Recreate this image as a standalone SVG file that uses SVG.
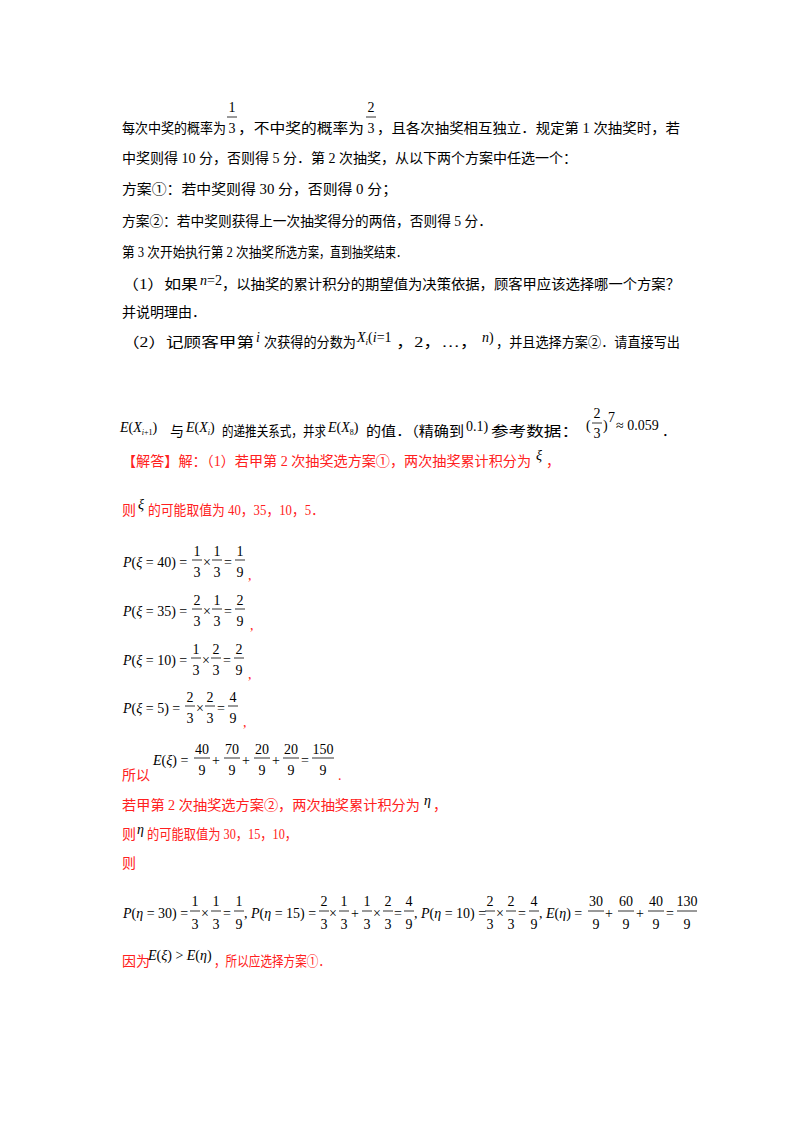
<svg xmlns="http://www.w3.org/2000/svg" width="800" height="1132" viewBox="0 0 800 1132">
<style>
text{font-family:"Liberation Serif","Noto Sans CJK SC",serif;font-size:14px;fill:#000}
.r{fill:#ff2020}
.m{font-family:"Liberation Serif",serif;font-size:14px}
.i{font-style:italic}
.f{font-family:"Liberation Serif",serif;font-size:14px;text-anchor:middle}
.b{stroke:#000;stroke-width:0.8}
</style>
<rect width="800" height="1132" fill="#fff"/>
<g id="question">
<text x="122" y="133" textLength="104" lengthAdjust="spacingAndGlyphs">每次中奖的概率为</text>
<text class="f" x="232" y="112">1</text><line class="b" x1="227" y1="117" x2="237" y2="117"/><text class="f" x="232" y="133">3</text>
<text x="238" y="133" textLength="126" lengthAdjust="spacingAndGlyphs">，不中奖的概率为</text>
<text class="f" x="371" y="112">2</text><line class="b" x1="366" y1="117" x2="376" y2="117"/><text class="f" x="371" y="133">3</text>
<text x="377" y="133" textLength="303" lengthAdjust="spacingAndGlyphs">，且各次抽奖相互独立．规定第 1 次抽奖时，若</text>
<text x="122" y="163">中奖则得 10 分，否则得 5 分．第 2 次抽奖，从以下两个方案中任选一个：</text>
<text x="122" y="194" textLength="275" lengthAdjust="spacingAndGlyphs">方案①：若中奖则得 30 分，否则得 0 分；</text>
<text x="122" y="226" textLength="370" lengthAdjust="spacingAndGlyphs">方案②：若中奖则获得上一次抽奖得分的两倍，否则得 5 分．</text>
<text x="122" y="257" textLength="152" lengthAdjust="spacingAndGlyphs">第 3 次开始执行第 2 次抽奖</text>
<text x="275" y="257" textLength="132" lengthAdjust="spacingAndGlyphs">所选方案，直到抽奖结束．</text>
<text x="122" y="289" textLength="76" lengthAdjust="spacingAndGlyphs">（1）如果</text>
<text class="m" x="200" y="285"><tspan class="i">n</tspan>=2</text>
<text x="222" y="289" textLength="458" lengthAdjust="spacingAndGlyphs">，以抽奖的累计积分的期望值为决策依据，顾客甲应该选择哪一个方案？</text>
<text x="122" y="317">并说明理由．</text>
<text x="122" y="347" textLength="132" lengthAdjust="spacingAndGlyphs">（2）记顾客甲第</text>
<text class="m i" x="256" y="342">i</text>
<text x="264" y="347" textLength="92" lengthAdjust="spacingAndGlyphs">次获得的分数为</text>
<text class="m" x="357" y="342"><tspan class="i">X</tspan><tspan font-size="9" class="i" dy="3">i</tspan><tspan dy="-3">(</tspan><tspan class="i">i</tspan>=1</text>
<text x="396" y="347" textLength="82" lengthAdjust="spacingAndGlyphs">，2，…，</text>
<text class="m" x="482" y="342"><tspan class="i">n</tspan>)</text>
<text x="496" y="347" textLength="184" lengthAdjust="spacingAndGlyphs">，并且选择方案②．请直接写出</text>
<text class="m" x="120" y="432"><tspan class="i">E</tspan>(<tspan class="i">X</tspan><tspan font-size="8" dy="3" class="i">i</tspan><tspan font-size="8">+1</tspan><tspan dy="-3">)</tspan></text>
<text x="170" y="436">与</text>
<text class="m" x="186" y="432"><tspan class="i">E</tspan>(<tspan class="i">X</tspan><tspan font-size="8" dy="3" class="i">i</tspan><tspan dy="-3">)</tspan></text>
<text x="222" y="436" textLength="104" lengthAdjust="spacingAndGlyphs">的递推关系式，并求</text>
<text class="m" x="328" y="432"><tspan class="i">E</tspan>(<tspan class="i">X</tspan><tspan font-size="8" dy="3">8</tspan><tspan dy="-3">)</tspan></text>
<text x="366" y="436" textLength="98" lengthAdjust="spacingAndGlyphs">的值．（精确到</text>
<text class="m" x="466" y="431">0.1)</text>
<text x="491" y="436" textLength="88" lengthAdjust="spacingAndGlyphs">参考数据：</text>
<text class="m" x="586" y="430">(</text><text class="f" x="597" y="418">2</text><line class="b" x1="592" y1="423" x2="602" y2="423"/><text class="f" x="597" y="438">3</text><text class="m" x="603" y="430">)</text><text class="m" x="608" y="422" font-size="9">7</text>
<text class="m" x="616" y="430">≈ 0.059</text>
<text x="662" y="436">．</text>
</g>
<g id="answer">
<text class="r" x="122" y="466" textLength="409" lengthAdjust="spacingAndGlyphs">【解答】解：（1）若甲第 2 次抽奖选方案①，两次抽奖累计积分为</text>
<text class="m i" x="536" y="460">ξ</text>
<text class="r" x="546" y="466">，</text>
<text class="r" x="122" y="515">则</text>
<text class="m i" x="138" y="509">ξ</text>
<text class="r" x="148" y="515" textLength="176" lengthAdjust="spacingAndGlyphs">的可能取值为 40，35，10，5．</text>

<text class="m" x="123" y="567"><tspan class="i">P</tspan>(<tspan class="i">ξ</tspan> = 40) =</text>
<text class="f" x="197" y="556">1</text><line class="b" x1="192" y1="560" x2="202" y2="560"/><text class="f" x="197" y="577">3</text>
<text class="m" x="203" y="567">×</text>
<text class="f" x="217" y="556">1</text><line class="b" x1="212" y1="560" x2="222" y2="560"/><text class="f" x="217" y="577">3</text>
<text class="m" x="224" y="567">=</text>
<text class="f" x="240" y="556">1</text><line class="b" x1="235" y1="560" x2="245" y2="560"/><text class="f" x="240" y="577">9</text>
<text class="r" x="248" y="580">,</text>

<text class="m" x="123" y="616"><tspan class="i">P</tspan>(<tspan class="i">ξ</tspan> = 35) =</text>
<text class="f" x="197" y="605">2</text><line class="b" x1="192" y1="609" x2="202" y2="609"/><text class="f" x="197" y="626">3</text>
<text class="m" x="203" y="616">×</text>
<text class="f" x="217" y="605">1</text><line class="b" x1="212" y1="609" x2="222" y2="609"/><text class="f" x="217" y="626">3</text>
<text class="m" x="224" y="616">=</text>
<text class="f" x="240" y="605">2</text><line class="b" x1="235" y1="609" x2="245" y2="609"/><text class="f" x="240" y="626">9</text>
<text class="r" x="250" y="630">,</text>

<text class="m" x="123" y="665"><tspan class="i">P</tspan>(<tspan class="i">ξ</tspan> = 10) =</text>
<text class="f" x="196" y="654">1</text><line class="b" x1="191" y1="658" x2="201" y2="658"/><text class="f" x="196" y="675">3</text>
<text class="m" x="202" y="665">×</text>
<text class="f" x="216" y="654">2</text><line class="b" x1="211" y1="658" x2="221" y2="658"/><text class="f" x="216" y="675">3</text>
<text class="m" x="223" y="665">=</text>
<text class="f" x="239" y="654">2</text><line class="b" x1="234" y1="658" x2="244" y2="658"/><text class="f" x="239" y="675">9</text>
<text class="r" x="248" y="679">,</text>

<text class="m" x="123" y="713"><tspan class="i">P</tspan>(<tspan class="i">ξ</tspan> = 5) =</text>
<text class="f" x="190" y="702">2</text><line class="b" x1="185" y1="706" x2="195" y2="706"/><text class="f" x="190" y="723">3</text>
<text class="m" x="196" y="713">×</text>
<text class="f" x="210" y="702">2</text><line class="b" x1="205" y1="706" x2="215" y2="706"/><text class="f" x="210" y="723">3</text>
<text class="m" x="217" y="713">=</text>
<text class="f" x="233" y="702">4</text><line class="b" x1="228" y1="706" x2="238" y2="706"/><text class="f" x="233" y="723">9</text>
<text class="r" x="243" y="727">,</text>

<text class="r" x="122" y="780">所以</text>
<text class="m" x="153" y="765"><tspan class="i">E</tspan>(<tspan class="i">ξ</tspan>) =</text>
<text class="f" x="202" y="754">40</text><line class="b" x1="194" y1="758" x2="210" y2="758"/><text class="f" x="202" y="775">9</text>
<text class="m" x="212" y="765">+</text>
<text class="f" x="232" y="754">70</text><line class="b" x1="224" y1="758" x2="240" y2="758"/><text class="f" x="232" y="775">9</text>
<text class="m" x="242" y="765">+</text>
<text class="f" x="262" y="754">20</text><line class="b" x1="254" y1="758" x2="270" y2="758"/><text class="f" x="262" y="775">9</text>
<text class="m" x="272" y="765">+</text>
<text class="f" x="291" y="754">20</text><line class="b" x1="283" y1="758" x2="299" y2="758"/><text class="f" x="291" y="775">9</text>
<text class="m" x="301" y="765">=</text>
<text class="f" x="323" y="754">150</text><line class="b" x1="312" y1="758" x2="334" y2="758"/><text class="f" x="323" y="775">9</text>
<text class="r" x="338" y="780">.</text>

<text class="r" x="122" y="810" textLength="298" lengthAdjust="spacingAndGlyphs">若甲第 2 次抽奖选方案②，两次抽奖累计积分为</text>
<text class="m i" x="424" y="805">η</text>
<text class="r" x="433" y="810">，</text>
<text class="r" x="122" y="839">则</text>
<text class="m i" x="137" y="834">η</text>
<text class="r" x="147" y="839" textLength="150" lengthAdjust="spacingAndGlyphs">的可能取值为 30，15，10，</text>
<text class="r" x="122" y="868">则</text>

<text class="m" x="123" y="918"><tspan class="i">P</tspan>(<tspan class="i">η</tspan> = 30) =</text>
<text class="f" x="195" y="906">1</text><line class="b" x1="190" y1="911" x2="200" y2="911"/><text class="f" x="195" y="929">3</text>
<text class="m" x="201" y="918">×</text>
<text class="f" x="216" y="906">1</text><line class="b" x1="211" y1="911" x2="221" y2="911"/><text class="f" x="216" y="929">3</text>
<text class="m" x="223" y="918">=</text>
<text class="f" x="239" y="906">1</text><line class="b" x1="234" y1="911" x2="244" y2="911"/><text class="f" x="239" y="929">9</text>
<text class="m" x="244" y="918">, <tspan class="i">P</tspan>(<tspan class="i">η</tspan> = 15) =</text>
<text class="f" x="324" y="906">2</text><line class="b" x1="319" y1="911" x2="329" y2="911"/><text class="f" x="324" y="929">3</text>
<text class="m" x="329" y="918">×</text>
<text class="f" x="344" y="906">1</text><line class="b" x1="339" y1="911" x2="349" y2="911"/><text class="f" x="344" y="929">3</text>
<text class="m" x="351" y="918">+</text>
<text class="f" x="367" y="906">1</text><line class="b" x1="362" y1="911" x2="372" y2="911"/><text class="f" x="367" y="929">3</text>
<text class="m" x="373" y="918">×</text>
<text class="f" x="388" y="906">2</text><line class="b" x1="383" y1="911" x2="393" y2="911"/><text class="f" x="388" y="929">3</text>
<text class="m" x="394" y="918">=</text>
<text class="f" x="409" y="906">4</text><line class="b" x1="404" y1="911" x2="414" y2="911"/><text class="f" x="409" y="929">9</text>
<text class="m" x="414" y="918">, <tspan class="i">P</tspan>(<tspan class="i">η</tspan> = 10) =</text>
<text class="f" x="490" y="906">2</text><line class="b" x1="485" y1="911" x2="495" y2="911"/><text class="f" x="490" y="929">3</text>
<text class="m" x="496" y="918">×</text>
<text class="f" x="511" y="906">2</text><line class="b" x1="506" y1="911" x2="516" y2="911"/><text class="f" x="511" y="929">3</text>
<text class="m" x="518" y="918">=</text>
<text class="f" x="534" y="906">4</text><line class="b" x1="529" y1="911" x2="539" y2="911"/><text class="f" x="534" y="929">9</text>
<text class="m" x="539" y="918">, <tspan class="i">E</tspan>(<tspan class="i">η</tspan>) =</text>
<text class="f" x="596" y="906">30</text><line class="b" x1="588" y1="911" x2="604" y2="911"/><text class="f" x="596" y="929">9</text>
<text class="m" x="605" y="918">+</text>
<text class="f" x="626" y="906">60</text><line class="b" x1="618" y1="911" x2="634" y2="911"/><text class="f" x="626" y="929">9</text>
<text class="m" x="636" y="918">+</text>
<text class="f" x="656" y="906">40</text><line class="b" x1="648" y1="911" x2="664" y2="911"/><text class="f" x="656" y="929">9</text>
<text class="m" x="666" y="918">=</text>
<text class="f" x="687" y="906">130</text><line class="b" x1="677" y1="911" x2="697" y2="911"/><text class="f" x="687" y="929">9</text>

<text class="r" x="122" y="966">因为</text>
<text class="m" x="148" y="960"><tspan class="i">E</tspan>(<tspan class="i">ξ</tspan>) &gt; <tspan class="i">E</tspan>(<tspan class="i">η</tspan>)</text>
<text class="r" x="214" y="966" textLength="116" lengthAdjust="spacingAndGlyphs">，所以应选择方案①．</text>
</g>
</svg>
